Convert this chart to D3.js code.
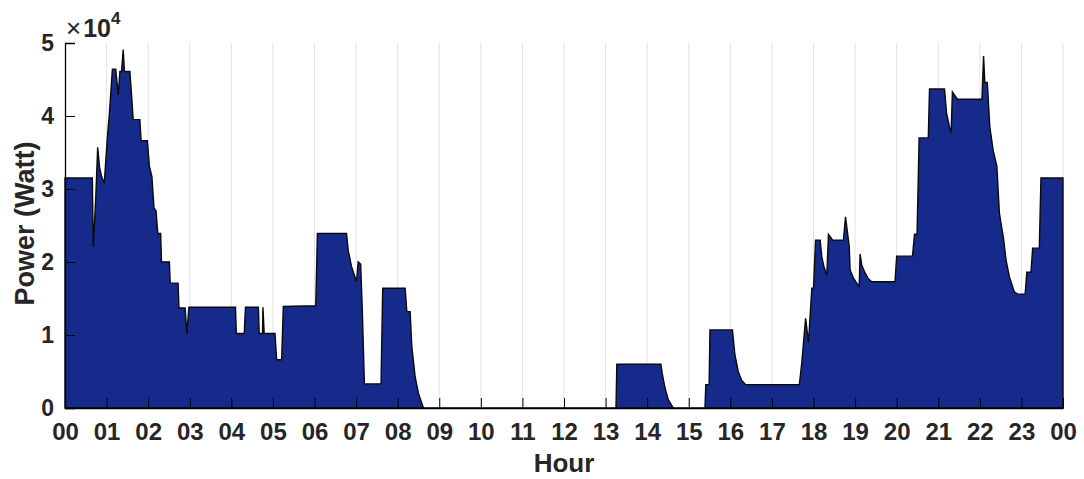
<!DOCTYPE html>
<html>
<head>
<meta charset="utf-8">
<script src="https://cdn.jsdelivr.net/npm/d3@7"></script>
<style>
  html, body { margin: 0; padding: 0; background: #fff; }
  svg { display: block; }
  text { font-family: "Liberation Sans", Arial, Helvetica, sans-serif; fill: #262626; }
</style>
</head>
<body>
<svg id="chart" width="1084" height="479"></svg>
<script>
// Daily load profile: time of day (hours) and power demand (W)
const hours = [
  0.00, 0.657, 0.68, 0.74, 0.786, 0.83, 0.88, 0.945, 1.02, 1.06,
  1.14, 1.22, 1.28, 1.32, 1.36, 1.40, 1.43, 1.56, 1.60, 1.64,
  1.80, 1.83, 1.98, 2.03, 2.09, 2.14, 2.19, 2.23, 2.30, 2.32,
  2.51, 2.53, 2.72, 2.74, 2.89, 2.93, 2.98, 4.10, 4.12, 4.31,
  4.34, 4.65, 4.67, 4.75, 4.76, 4.79, 5.05, 5.09, 5.21, 5.25,
  6.03, 6.07, 6.77, 6.81, 6.89, 7.01, 7.05, 7.11, 7.15, 7.20,
  7.60, 7.64, 8.18, 8.22, 8.30, 8.34, 8.42, 8.50, 8.62, 13.25,
  13.27, 14.33, 14.36, 14.43, 14.51, 14.63, 15.39, 15.41, 15.49, 15.51,
  16.05, 16.11, 16.19, 16.27, 16.37, 17.66, 17.72, 17.81, 17.88, 17.96,
  18.00, 18.05, 18.16, 18.20, 18.25, 18.32, 18.36, 18.46, 18.72, 18.77,
  18.86, 18.88, 18.96, 19.04, 19.10, 19.12, 19.16, 19.24, 19.32, 19.40,
  19.96, 20.00, 20.38, 20.43, 20.49, 20.54, 20.76, 20.79, 21.15, 21.20,
  21.27, 21.31, 21.34, 21.46, 22.05, 22.09, 22.12, 22.18, 22.24, 22.32,
  22.41, 22.47, 22.57, 22.63, 22.71, 22.83, 22.91, 23.09, 23.13, 23.23,
  23.27, 23.43, 23.47, 24.00
];
const powerW = [
  31500, 31500, 22100, 28900, 35700, 33000, 31700, 30800, 37200, 39800,
  46400, 46400, 42900, 46100, 46100, 49100, 46100, 46100, 42900, 39500,
  39500, 36600, 36600, 33100, 31700, 27400, 27000, 23900, 23900, 20000,
  20000, 17100, 17100, 13700, 13700, 10200, 13800, 13800, 10200, 10200,
  13800, 13800, 10200, 10200, 13800, 10200, 10200, 6600, 6600, 13900,
  14000, 23900, 23900, 21600, 19400, 17300, 20000, 19700, 13400, 3300,
  3300, 16400, 16400, 13200, 13200, 8400, 4300, 2000, 0, 0,
  6000, 6000, 4800, 2700, 1100, 0, 0, 3200, 3200, 10700,
  10700, 7300, 5000, 3800, 3200, 3200, 6300, 12300, 9000, 16400,
  16400, 23000, 23000, 20700, 19400, 18200, 23800, 23000, 23000, 26200,
  22100, 18900, 17800, 17100, 16700, 21100, 19600, 18500, 17700, 17300,
  17300, 20800, 20800, 23800, 23800, 37000, 37000, 43700, 43700, 40400,
  38500, 37700, 43300, 42300, 42300, 48200, 44600, 44600, 38500, 35300,
  33100, 26700, 23200, 20300, 18000, 15900, 15600, 15600, 18600, 18600,
  21900, 21900, 31500, 31500
];
const hourTicks = d3.range(0, 25);
const hourTickLabels = ["00","01","02","03","04","05","06","07","08","09","10","11",
  "12","13","14","15","16","17","18","19","20","21","22","23","00"];
const powerTicks = [0, 10000, 20000, 30000, 40000, 50000];
const powerTickLabels = ["0", "1", "2", "3", "4", "5"];

(function drawChart() {
  const profile = hours.map((h, i) => ({ h, p: powerW[i] }));

  const svg = d3.select("#chart");
  const plotLeft = 65, plotRight = 1063, plotTop = 43, plotBottom = 408;

  const x = d3.scaleLinear().domain([0, 24]).range([plotLeft, plotRight]);
  const y = d3.scaleLinear().domain([0, 50000]).range([plotBottom, plotTop]);

  // vertical grid at each hour
  svg.append("g")
    .selectAll("line")
    .data(hourTicks.slice(1))
    .join("line")
    .attr("x1", d => x(d)).attr("x2", d => x(d))
    .attr("y1", plotTop).attr("y2", plotBottom)
    .attr("stroke", "#e3e3e3")
    .attr("stroke-width", 1);

  // filled load area with dark outline
  const area = d3.area()
    .x(d => x(d.h))
    .y0(y(0))
    .y1(d => y(d.p));

  svg.append("path")
    .datum(profile)
    .attr("d", area)
    .attr("fill", "#152a8a")
    .attr("stroke", "#0a0a0a")
    .attr("stroke-width", 1.4)
    .attr("stroke-linejoin", "miter");

  // x axis: ticks pointing inward, bold two-digit hour labels
  const xAxis = d3.axisBottom(x)
    .tickValues(hourTicks)
    .tickFormat((d, i) => hourTickLabels[i])
    .tickSizeInner(-10)
    .tickSizeOuter(0)
    .tickPadding(14);

  const gx = svg.append("g")
    .attr("transform", `translate(0,${plotBottom})`)
    .call(xAxis);
  gx.select(".domain").attr("stroke", "#000").attr("stroke-width", 1.3);
  gx.selectAll(".tick line").attr("stroke", "#000").attr("stroke-width", 1);
  gx.selectAll(".tick text")
    .attr("font-size", 24)
    .attr("font-weight", "bold")
    .attr("fill", "#262626")
    .attr("dy", "0.71em")
    .attr("y", 15);

  // y axis: inward ticks, labels in units of 10^4
  const yAxis = d3.axisLeft(y)
    .tickValues(powerTicks)
    .tickFormat((d, i) => powerTickLabels[i])
    .tickSizeInner(-10)
    .tickSizeOuter(-10)
    .tickPadding(11);

  const gy = svg.append("g")
    .attr("transform", `translate(${plotLeft},0)`)
    .call(yAxis);
  gy.select(".domain").attr("stroke", "#000").attr("stroke-width", 1.3);
  gy.selectAll(".tick line").attr("stroke", "#000").attr("stroke-width", 1);
  gy.selectAll(".tick text")
    .attr("font-size", 23)
    .attr("font-weight", "bold")
    .attr("fill", "#262626");

  // exponent marker above the y axis
  const expo = svg.append("text")
    .attr("x", 66)
    .attr("y", 37);
  expo.append("tspan")
    .attr("font-size", 26)
    .attr("font-weight", "normal")
    .text("\u00d7");
  expo.append("tspan")
    .attr("font-size", 25)
    .attr("font-weight", "bold")
    .attr("dx", 2)
    .text("10");
  expo.append("tspan")
    .attr("font-size", 17)
    .attr("font-weight", "bold")
    .attr("dy", -13)
    .text("4");

  // axis titles
  svg.append("text")
    .attr("x", x(12))
    .attr("y", 472)
    .attr("text-anchor", "middle")
    .attr("font-size", 26)
    .attr("font-weight", "bold")
    .text("Hour");

  svg.append("text")
    .attr("transform", `translate(34,${(plotTop + plotBottom) / 2 - 2}) rotate(-90)`)
    .attr("text-anchor", "middle")
    .attr("font-size", 27)
    .attr("font-weight", "bold")
    .text("Power (Watt)");
})();
</script>
</body>
</html>
